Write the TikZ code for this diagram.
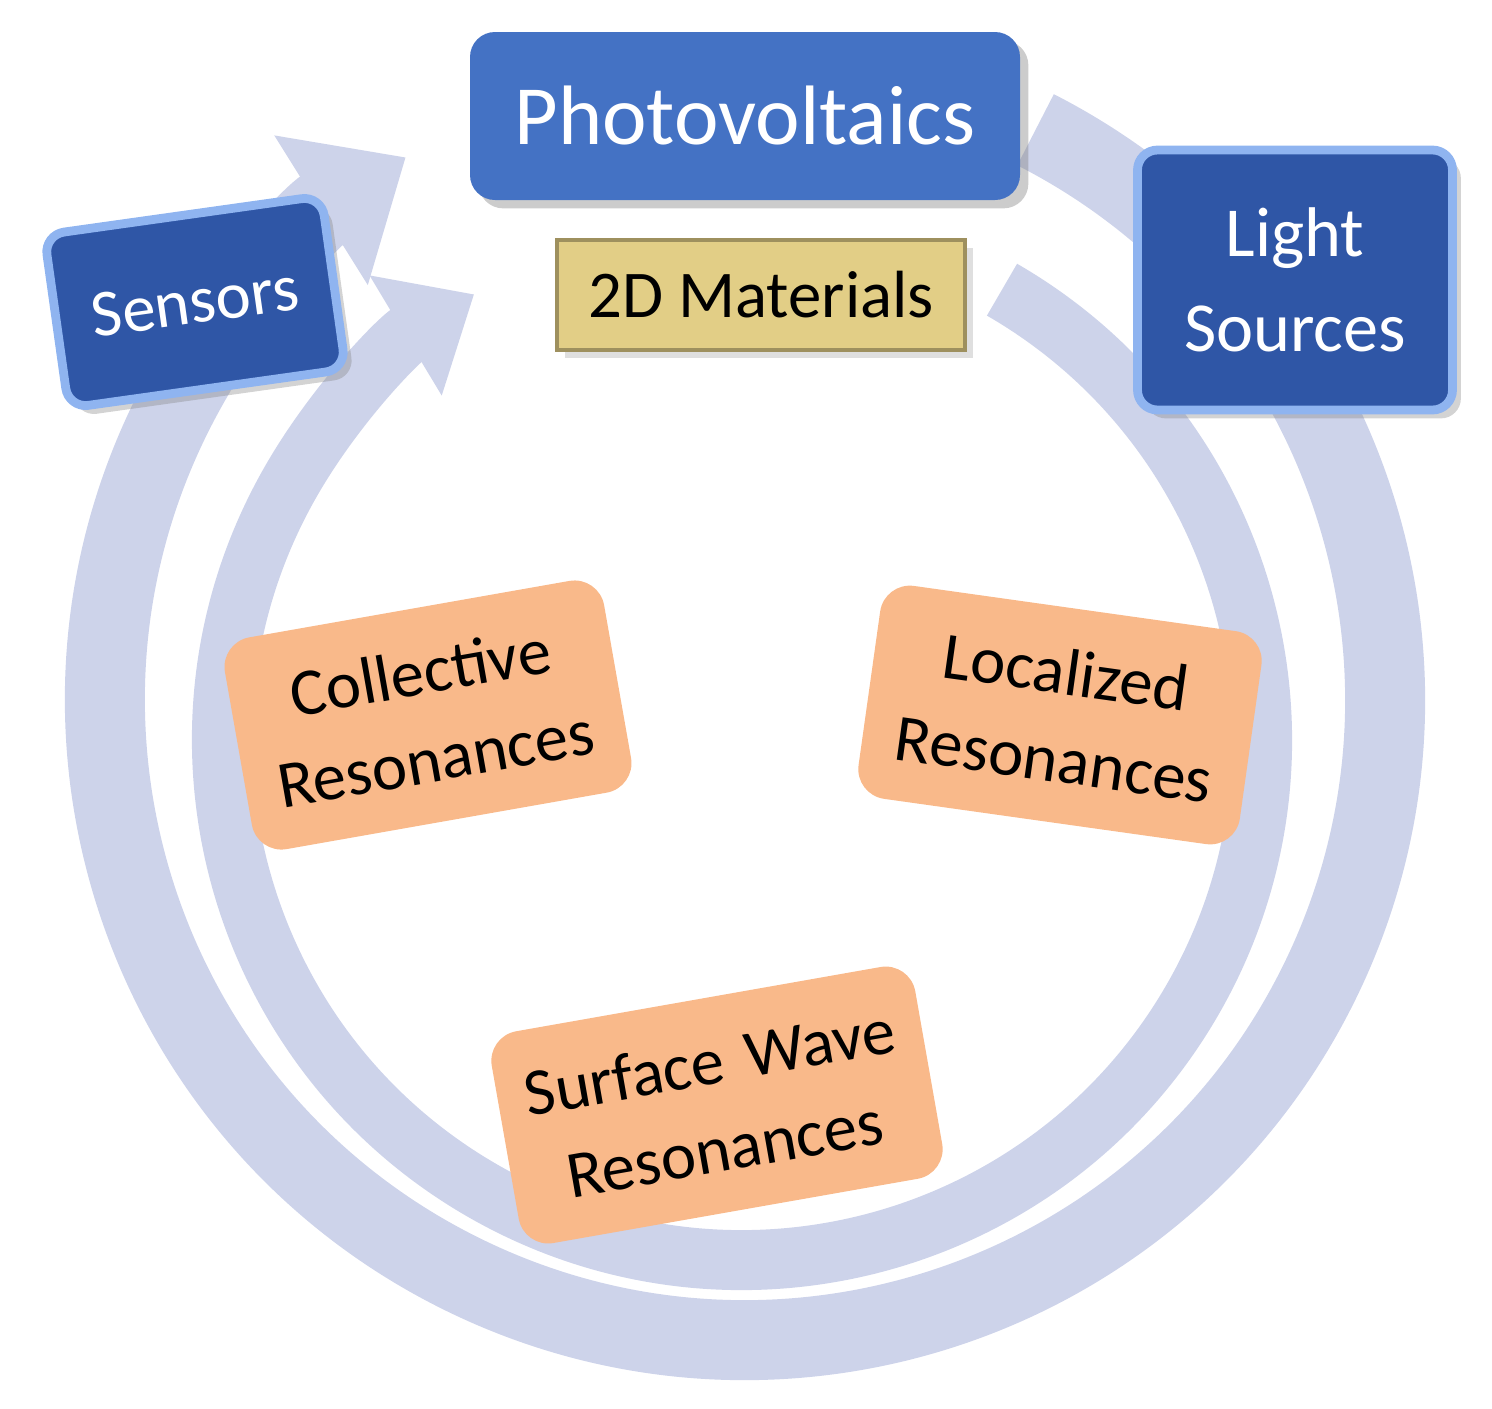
\documentclass[tikz,border=0pt]{standalone}
\usepackage{fontspec}
\setmainfont{Carlito}
\usetikzlibrary{arrows.meta,shadows}
\definecolor{ring}{HTML}{CDD3EA}
\definecolor{pv}{HTML}{4472C4}
\definecolor{dk}{HTML}{2F56A6}
\definecolor{lb}{HTML}{8FB4F0}
\definecolor{tan}{HTML}{E2CE86}
\definecolor{org}{HTML}{F9B98A}
\tikzset{
 ringarrow/.style={draw=ring,line width=#1},
 orbox/.style={fill=org,rounded corners=0.3cm,minimum width=3.85cm,minimum height=2.15cm,align=center,font=\fontsize{19}{25}\selectfont,text width=3.6cm},
 bluebox/.style={fill=dk,draw=lb,line width=2.5pt,rounded corners=0.2cm,text=white,align=center,drop shadow={opacity=0.35}},
}
\begin{document}
\begin{tikzpicture}
\useasboundingbox (0,0) rectangle (14.92,-14.08);
% outer ring
\draw[ringarrow=0.8cm,-{Triangle[length=1.0cm,width=1.7cm]}]
  (7.45,-7.0) ++(63:6.4) arc[start angle=63,end angle=-238,radius=6.4];
% inner ring
\draw[ringarrow=0.6cm,-{Triangle[length=0.8cm,width=1.35cm]}]
  (7.42,-7.4) ++(60:5.2) arc[start angle=60,end angle=-239,radius=5.2];
% boxes
\node[fill=pv,rounded corners=0.25cm,minimum width=5.5cm,minimum height=1.68cm,text=white,font=\fontsize{24}{30}\selectfont,drop shadow={opacity=0.4}] (pv) at (7.45,-1.16) {Photovoltaics};
\node[fill=tan,draw=tan!70!black,line width=1pt,minimum width=4.08cm,minimum height=1.1cm,font=\fontsize{19}{24}\selectfont,drop shadow={opacity=0.25}] (dm) at (7.61,-2.95) {2D Materials};
\node[bluebox,rotate=8,minimum width=2.8cm,minimum height=1.75cm,font=\fontsize{19}{22}\selectfont] (se) at (1.95,-3.02) {Sensors};
\node[bluebox,minimum width=3.15cm,minimum height=2.6cm,font=\fontsize{20}{27}\selectfont] (ls) at (12.95,-2.8) {Light\\Sources};
\node[orbox,rotate=10] (cr) at (4.28,-7.15) {Collective\\Resonances};
\node[orbox,rotate=-8] (lr) at (10.6,-7.15) {Localized\\Resonances};
\node[orbox,rotate=10,minimum width=4.3cm,text width=4cm] (sw) at (7.17,-11.05) {Surface Wave\\Resonances};
\end{tikzpicture}
\end{document}
